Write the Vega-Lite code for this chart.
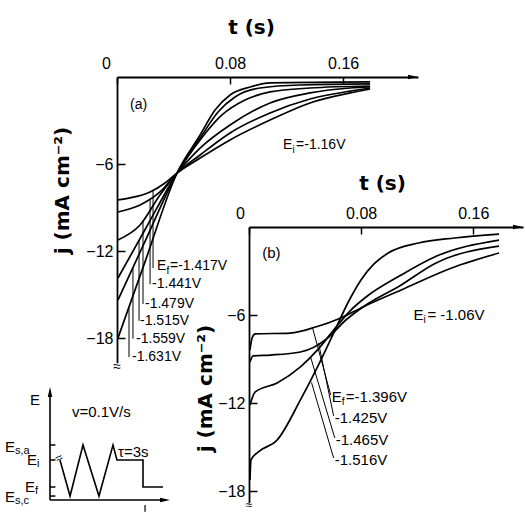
{
"$schema":"https://vega.github.io/schema/vega-lite/v6.json",
"width":525,"height":513,"autosize":{"type":"none"},"padding":0,"background":"white",
"config":{"view":{"stroke":null},"font":"Liberation Sans",
 "axis":{"grid":false,"domainColor":"black","tickColor":"black","labelColor":"black","titleColor":"black","domainWidth":1.8,"tickWidth":1.5,"labelFont":"Liberation Sans","labelFontSize":16,"titleFont":"DejaVu Sans","titleFontSize":20,"titleFontWeight":"bold","labelFlush":false,"labelOverlap":false},
 "text":{"font":"Liberation Sans","fontSize":15,"color":"black"}},
"datasets":{
 "curvesA":[
  {"ef":"-1.417","t":0.0007,"j":-8.48},{"ef":"-1.417","t":0.0092,"j":-8.34},{"ef":"-1.417","t":0.0234,"j":-7.93},{"ef":"-1.417","t":0.034,"j":-7.31},{"ef":"-1.417","t":0.0425,"j":-6.62},{"ef":"-1.417","t":0.0588,"j":-5.59},{"ef":"-1.417","t":0.08,"j":-4.34},{"ef":"-1.417","t":0.1083,"j":-2.97},{"ef":"-1.417","t":0.1366,"j":-1.79},{"ef":"-1.417","t":0.165,"j":-1.1},{"ef":"-1.417","t":0.1791,"j":-0.83},
  {"ef":"-1.441","t":0.0007,"j":-9.31},{"ef":"-1.441","t":0.0163,"j":-8.83},{"ef":"-1.441","t":0.0304,"j":-7.93},{"ef":"-1.441","t":0.0425,"j":-6.62},{"ef":"-1.441","t":0.0588,"j":-5.38},{"ef":"-1.441","t":0.08,"j":-3.86},{"ef":"-1.441","t":0.1083,"j":-2.48},{"ef":"-1.441","t":0.1366,"j":-1.52},{"ef":"-1.441","t":0.165,"j":-0.97},{"ef":"-1.441","t":0.1791,"j":-0.76},
  {"ef":"-1.479","t":0.0007,"j":-11.24},{"ef":"-1.479","t":0.0163,"j":-10.21},{"ef":"-1.479","t":0.0304,"j":-8.14},{"ef":"-1.479","t":0.0425,"j":-6.62},{"ef":"-1.479","t":0.0588,"j":-4.9},{"ef":"-1.479","t":0.08,"j":-3.31},{"ef":"-1.479","t":0.1083,"j":-1.79},{"ef":"-1.479","t":0.1366,"j":-1.1},{"ef":"-1.479","t":0.165,"j":-0.76},{"ef":"-1.479","t":0.1791,"j":-0.69},
  {"ef":"-1.515","t":0.0007,"j":-13.86},{"ef":"-1.515","t":0.02,"j":-10.5},{"ef":"-1.515","t":0.0425,"j":-6.62},{"ef":"-1.515","t":0.0588,"j":-4.34},{"ef":"-1.515","t":0.0743,"j":-2.62},{"ef":"-1.515","t":0.0906,"j":-1.59},{"ef":"-1.515","t":0.1083,"j":-1.03},{"ef":"-1.515","t":0.1366,"j":-0.76},{"ef":"-1.515","t":0.1791,"j":-0.62},
  {"ef":"-1.559","t":0.0007,"j":-15.38},{"ef":"-1.559","t":0.02,"j":-11.3},{"ef":"-1.559","t":0.0425,"j":-6.62},{"ef":"-1.559","t":0.0588,"j":-4.21},{"ef":"-1.559","t":0.0715,"j":-2.41},{"ef":"-1.559","t":0.0835,"j":-1.38},{"ef":"-1.559","t":0.1012,"j":-0.76},{"ef":"-1.559","t":0.1296,"j":-0.55},{"ef":"-1.559","t":0.1791,"j":-0.48},
  {"ef":"-1.631","t":0.0007,"j":-18.0},{"ef":"-1.631","t":0.02,"j":-12.7},{"ef":"-1.631","t":0.0425,"j":-6.62},{"ef":"-1.631","t":0.0588,"j":-4.0},{"ef":"-1.631","t":0.0694,"j":-2.28},{"ef":"-1.631","t":0.08,"j":-1.24},{"ef":"-1.631","t":0.0942,"j":-0.69},{"ef":"-1.631","t":0.1083,"j":-0.41},{"ef":"-1.631","t":0.1791,"j":-0.34}
 ],
 "curvesB":[
  {"ef":"-1.396","t":0.0007,"j":-8.38},{"ef":"-1.396","t":0.0022,"j":-7.57},{"ef":"-1.396","t":0.0043,"j":-7.29},{"ef":"-1.396","t":0.0295,"j":-7.23},{"ef":"-1.396","t":0.0475,"j":-6.82},{"ef":"-1.396","t":0.0655,"j":-6.2},{"ef":"-1.396","t":0.0813,"j":-5.45},{"ef":"-1.396","t":0.1086,"j":-4.29},{"ef":"-1.396","t":0.1446,"j":-2.79},{"ef":"-1.396","t":0.1784,"j":-1.77},
  {"ef":"-1.425","t":0.0007,"j":-9.2},{"ef":"-1.425","t":0.0029,"j":-8.79},{"ef":"-1.425","t":0.0151,"j":-8.73},{"ef":"-1.425","t":0.0367,"j":-8.52},{"ef":"-1.425","t":0.0561,"j":-7.57},{"ef":"-1.425","t":0.0691,"j":-6.34},{"ef":"-1.425","t":0.0813,"j":-5.45},{"ef":"-1.425","t":0.1086,"j":-3.95},{"ef":"-1.425","t":0.1324,"j":-2.5},{"ef":"-1.425","t":0.1784,"j":-1.3},
  {"ef":"-1.465","t":0.0007,"j":-12.13},{"ef":"-1.465","t":0.0043,"j":-11.25},{"ef":"-1.465","t":0.0201,"j":-10.63},{"ef":"-1.465","t":0.0367,"j":-9.54},{"ef":"-1.465","t":0.0489,"j":-8.38},{"ef":"-1.465","t":0.0604,"j":-7.02},{"ef":"-1.465","t":0.0727,"j":-5.66},{"ef":"-1.465","t":0.0835,"j":-4.77},{"ef":"-1.465","t":0.1086,"j":-3.27},{"ef":"-1.465","t":0.1324,"j":-2.04},{"ef":"-1.465","t":0.1784,"j":-0.89},
  {"ef":"-1.516","t":0.0007,"j":-17.25},{"ef":"-1.516","t":0.0014,"j":-15.88},{"ef":"-1.516","t":0.0065,"j":-15.34},{"ef":"-1.516","t":0.0201,"j":-14.52},{"ef":"-1.516","t":0.0367,"j":-11.79},{"ef":"-1.516","t":0.0489,"j":-9.54},{"ef":"-1.516","t":0.0604,"j":-7.23},{"ef":"-1.516","t":0.0705,"j":-5.18},{"ef":"-1.516","t":0.0799,"j":-3.61},{"ef":"-1.516","t":0.0892,"j":-2.52},{"ef":"-1.516","t":0.0993,"j":-1.77},{"ef":"-1.516","t":0.1209,"j":-1.09},{"ef":"-1.516","t":0.1468,"j":-0.75},{"ef":"-1.516","t":0.1784,"j":-0.48}
 ],
 "leadersA":[
  {"t":0.0255,"j":-7.86,"t2":0.0255,"j2":-13.17},{"t":0.0234,"j":-8.38,"t2":0.0234,"j2":-14.3},{"t":0.0184,"j":-9.9,"t2":0.0184,"j2":-15.65},{"t":0.0156,"j":-11.28,"t2":0.0156,"j2":-16.82},{"t":0.0113,"j":-13.16,"t2":0.0113,"j2":-18.05},{"t":0.0085,"j":-15.88,"t2":0.0085,"j2":-19.31}
 ],
 "leadersB":[
  {"t":0.0453,"j":-6.85,"t2":0.0583,"j2":-11.45},{"t":0.0496,"j":-7.9,"t2":0.0604,"j2":-12.88},{"t":0.0439,"j":-8.85,"t2":0.0612,"j2":-14.38},{"t":0.0446,"j":-10.6,"t2":0.0604,"j2":-15.75}
 ],
 "labelsA":[
  {"t":0.0283,"j":-13.05,"part":"E","text":"E"},{"t":0.0283,"j":-13.05,"part":"sub","text":"f"},{"t":0.0283,"j":-13.05,"part":"rest","text":"=-1.417V"},
  {"t":0.0248,"j":-14.3,"part":"plain","text":"-1.441V"},{"t":0.0198,"j":-15.65,"part":"plain","text":"-1.479V"},{"t":0.0163,"j":-16.82,"part":"plain","text":"-1.515V"},{"t":0.0135,"j":-18.05,"part":"plain","text":"-1.559V"},{"t":0.0106,"j":-19.31,"part":"plain","text":"-1.631V"},
  {"t":0.1175,"j":-4.69,"part":"E","text":"E"},{"t":0.1175,"j":-4.69,"part":"sub","text":"i"},{"t":0.1175,"j":-4.69,"part":"rest","text":"=-1.16V"},
  {"t":0.0092,"j":-1.93,"part":"plain","text":"(a)"}
 ],
 "labelsB":[
  {"t":0.059,"j":-11.59,"part":"E","text":"E"},{"t":0.059,"j":-11.59,"part":"sub","text":"f"},{"t":0.059,"j":-11.59,"part":"rest","text":"=-1.396V"},
  {"t":0.0612,"j":-13.02,"part":"plain","text":"-1.425V"},{"t":0.0619,"j":-14.52,"part":"plain","text":"-1.465V"},{"t":0.0612,"j":-15.88,"part":"plain","text":"-1.516V"},
  {"t":0.1173,"j":-6.0,"part":"E","text":"E"},{"t":0.1173,"j":-6.0,"part":"sub","text":"i"},{"t":0.1173,"j":-6.0,"part":"rest","text":" = -1.06V"},
  {"t":0.0094,"j":-1.77,"part":"plain","text":"(b)"}
 ],
 "wave":[
  {"i":0,"x":0.83,"e":3.54},{"i":1,"x":1.67,"e":0.35},{"i":2,"x":2.75,"e":4.87},{"i":3,"x":4.08,"e":0.35},{"i":4,"x":5.25,"e":4.87},{"i":5,"x":5.58,"e":3.54},{"i":6,"x":7.75,"e":3.54},{"i":7,"x":7.75,"e":1.15},{"i":8,"x":9.42,"e":1.15}
 ],
 "levels":[{"name":"Es,a","e":4.87},{"name":"Ei","e":3.54},{"name":"Ef","e":1.15},{"name":"Es,c","e":0.35}],
 "insetLabels":[
  {"x":-3.75,"e":4.69,"part":"E","text":"E"},{"x":-3.75,"e":4.69,"part":"sub","text":"s,a"},
  {"x":-1.92,"e":3.54,"part":"E","text":"E"},{"x":-1.92,"e":3.54,"part":"sub","text":"i"},
  {"x":-2.08,"e":1.15,"part":"E","text":"E"},{"x":-2.08,"e":1.15,"part":"sub","text":"f"},
  {"x":-3.75,"e":0.27,"part":"E","text":"E"},{"x":-3.75,"e":0.27,"part":"sub","text":"s,c"},
  {"x":-1.67,"e":8.85,"part":"plain","text":"E"},
  {"x":1.83,"e":7.79,"part":"plain","text":"v=0.1V/s"},
  {"x":5.67,"e":4.25,"part":"plain","text":"τ=3s"}
 ]
},
"layer":[
 {"layer":[
  {"data":{"name":"curvesA"},"mark":{"type":"line","color":"black","strokeWidth":1.7,"interpolate":"monotone"},
   "encoding":{
    "x":{"field":"t","type":"quantitative","scale":{"domain":[0,0.213],"range":[117,418],"nice":false,"zero":false},
     "axis":{"orient":"top","offset":-77,"values":[0,0.08,0.16],"labelExpr":"datum.value == 0 ? '0' : format(datum.value, '.2f')","labelOffset":{"condition":{"test":"datum.value == 0","value":-11},"value":0},"tickSize":-7,"labelPadding":13,"labelBaseline":"bottom","title":"t (s)","titleX":251,"titleY":-50,"titleAlign":"center","titleBaseline":"middle","titleAngle":0}},
    "y":{"field":"j","type":"quantitative","scale":{"domain":[-19.7,0],"range":[362.65,77],"nice":false,"zero":false},
     "axis":{"orient":"left","offset":-117,"values":[-6,-12,-18],"tickSize":-8,"labelPadding":12,"title":"j (mA cm⁻²)","titleX":-55,"titleY":190,"titleAngle":-90,"titleAlign":"center","titleBaseline":"middle"}},
    "detail":{"field":"ef"}}},
  {"data":{"name":"leadersA"},"mark":{"type":"rule","color":"black","strokeWidth":1},
   "encoding":{"x":{"field":"t","type":"quantitative"},"y":{"field":"j","type":"quantitative"},"x2":{"field":"t2"},"y2":{"field":"j2"}}},
  {"data":{"name":"labelsA"},"transform":[{"filter":"datum.part == 'E' || datum.part == 'plain'"}],"mark":{"type":"text","align":"left","baseline":"middle","fontSize":14},
   "encoding":{"x":{"field":"t","type":"quantitative"},"y":{"field":"j","type":"quantitative"},"text":{"field":"text"}}},
  {"data":{"name":"labelsA"},"transform":[{"filter":"datum.part == 'sub'"}],"mark":{"type":"text","align":"left","baseline":"middle","fontSize":10,"dx":9.5,"dy":5},
   "encoding":{"x":{"field":"t","type":"quantitative"},"y":{"field":"j","type":"quantitative"},"text":{"field":"text"}}},
  {"data":{"name":"labelsA"},"transform":[{"filter":"datum.part == 'rest'"}],"mark":{"type":"text","align":"left","baseline":"middle","fontSize":14,"dx":13},
   "encoding":{"x":{"field":"t","type":"quantitative"},"y":{"field":"j","type":"quantitative"},"text":{"field":"text"}}},
  {"data":{"values":[{}]},"mark":{"type":"point","shape":"M-2,-0.45L0,0L-2,0.45Z","filled":true,"color":"black","opacity":1,"size":100},
   "encoding":{"x":{"datum":0.213,"type":"quantitative"},"y":{"datum":0,"type":"quantitative"}}},
  {"data":{"values":[{}]},"mark":{"type":"text","text":"≈","fontSize":14,"align":"center","baseline":"middle"},
   "encoding":{"x":{"datum":0,"type":"quantitative"},"y":{"datum":-20.0,"type":"quantitative"}}}
 ]},
 {"layer":[
  {"data":{"name":"curvesB"},"mark":{"type":"line","color":"black","strokeWidth":1.7,"interpolate":"monotone"},
   "encoding":{
    "x":{"field":"t","type":"quantitative","scale":{"domain":[0,0.1955],"range":[249,523],"nice":false,"zero":false},
     "axis":{"orient":"top","offset":-227,"values":[0,0.08,0.16],"labelExpr":"datum.value == 0 ? '0' : format(datum.value, '.2f')","labelOffset":{"condition":{"test":"datum.value == 0","value":-9},"value":0},"tickSize":-7,"labelPadding":13,"labelBaseline":"bottom","title":"t (s)","titleX":382,"titleY":-44,"titleAlign":"center","titleBaseline":"middle","titleAngle":0}},
    "y":{"field":"j","type":"quantitative","scale":{"domain":[-18.8,0],"range":[502.8,227],"nice":false,"zero":false},
     "axis":{"orient":"left","offset":-249,"values":[-6,-12,-18],"tickSize":-8,"labelPadding":12,"title":"j (mA cm⁻²)","titleX":-44,"titleY":388,"titleAngle":-90,"titleAlign":"center","titleBaseline":"middle"}},
    "detail":{"field":"ef"}}},
  {"data":{"name":"leadersB"},"mark":{"type":"rule","color":"black","strokeWidth":1},
   "encoding":{"x":{"field":"t","type":"quantitative"},"y":{"field":"j","type":"quantitative"},"x2":{"field":"t2"},"y2":{"field":"j2"}}},
  {"data":{"name":"labelsB"},"transform":[{"filter":"datum.part == 'E' || datum.part == 'plain'"}],"mark":{"type":"text","align":"left","baseline":"middle","fontSize":15},
   "encoding":{"x":{"field":"t","type":"quantitative"},"y":{"field":"j","type":"quantitative"},"text":{"field":"text"}}},
  {"data":{"name":"labelsB"},"transform":[{"filter":"datum.part == 'sub'"}],"mark":{"type":"text","align":"left","baseline":"middle","fontSize":10,"dx":10,"dy":5},
   "encoding":{"x":{"field":"t","type":"quantitative"},"y":{"field":"j","type":"quantitative"},"text":{"field":"text"}}},
  {"data":{"name":"labelsB"},"transform":[{"filter":"datum.part == 'rest'"}],"mark":{"type":"text","align":"left","baseline":"middle","fontSize":15,"dx":14},
   "encoding":{"x":{"field":"t","type":"quantitative"},"y":{"field":"j","type":"quantitative"},"text":{"field":"text"}}},
  {"data":{"values":[{}]},"mark":{"type":"point","shape":"M-2,-0.45L0,0L-2,0.45Z","filled":true,"color":"black","opacity":1,"size":100},
   "encoding":{"x":{"datum":0.1955,"type":"quantitative"},"y":{"datum":0,"type":"quantitative"}}},
  {"data":{"values":[{}]},"mark":{"type":"text","text":"≈","fontSize":12,"align":"center","baseline":"middle"},
   "encoding":{"x":{"datum":0,"type":"quantitative"},"y":{"datum":-18.95,"type":"quantitative"}}}
 ]},
 {"layer":[
  {"data":{"name":"wave"},"mark":{"type":"line","color":"black","strokeWidth":1.6},
   "encoding":{
    "x":{"field":"x","type":"quantitative","scale":{"domain":[0,10],"range":[50,170],"nice":false,"zero":false},"axis":null},
    "y":{"field":"e","type":"quantitative","scale":{"domain":[0,10],"range":[500,387],"nice":false,"zero":false},"axis":null},
    "order":{"field":"i"}}},
  {"data":{"values":[{}]},"mark":{"type":"rule","color":"black","strokeWidth":1.6},
   "encoding":{"x":{"datum":0,"type":"quantitative","axis":null},"y":{"datum":0,"type":"quantitative","axis":null},"y2":{"datum":9.6}}},
  {"data":{"values":[{}]},"mark":{"type":"rule","color":"black","strokeWidth":1.6},
   "encoding":{"x":{"datum":0,"type":"quantitative","axis":null},"x2":{"datum":9.6},"y":{"datum":0,"type":"quantitative","axis":null}}},
  {"data":{"values":[{}]},"mark":{"type":"point","shape":"M-2,-0.45L0,0L-2,0.45Z","filled":true,"color":"black","opacity":1,"size":100},
   "encoding":{"x":{"datum":10,"type":"quantitative","axis":null},"y":{"datum":0,"type":"quantitative","axis":null}}},
  {"data":{"values":[{}]},"mark":{"type":"point","shape":"M-0.45,2L0,0L0.45,2Z","filled":true,"color":"black","opacity":1,"size":100},
   "encoding":{"x":{"datum":0,"type":"quantitative","axis":null},"y":{"datum":10,"type":"quantitative","axis":null}}},
  {"data":{"name":"levels"},"mark":{"type":"rule","color":"black","strokeWidth":1.5},
   "encoding":{"x":{"datum":0,"type":"quantitative","axis":null},"x2":{"datum":0.45},"y":{"field":"e","type":"quantitative","axis":null}}},
  {"data":{"values":[{}]},"mark":{"type":"rule","color":"black","strokeWidth":1.2},
   "encoding":{"x":{"datum":7.92,"type":"quantitative","axis":null},"y":{"datum":-0.45,"type":"quantitative","axis":null},"y2":{"datum":-1.05}}},
  {"data":{"values":[{}]},"mark":{"type":"text","text":"≈","fontSize":13,"align":"center","baseline":"middle","angle":-30},
   "encoding":{"x":{"datum":0.75,"type":"quantitative","axis":null},"y":{"datum":3.7,"type":"quantitative","axis":null}}},
  {"data":{"name":"insetLabels"},"transform":[{"filter":"datum.part == 'E' || datum.part == 'plain'"}],"mark":{"type":"text","align":"left","baseline":"middle","fontSize":15},
   "encoding":{"x":{"field":"x","type":"quantitative","axis":null},"y":{"field":"e","type":"quantitative","axis":null},"text":{"field":"text"}}},
  {"data":{"name":"insetLabels"},"transform":[{"filter":"datum.part == 'sub'"}],"mark":{"type":"text","align":"left","baseline":"middle","fontSize":11,"dx":10,"dy":4},
   "encoding":{"x":{"field":"x","type":"quantitative","axis":null},"y":{"field":"e","type":"quantitative","axis":null},"text":{"field":"text"}}}
 ]}
],
"resolve":{"scale":{"x":"independent","y":"independent"},"axis":{"x":"independent","y":"independent"}}
}
